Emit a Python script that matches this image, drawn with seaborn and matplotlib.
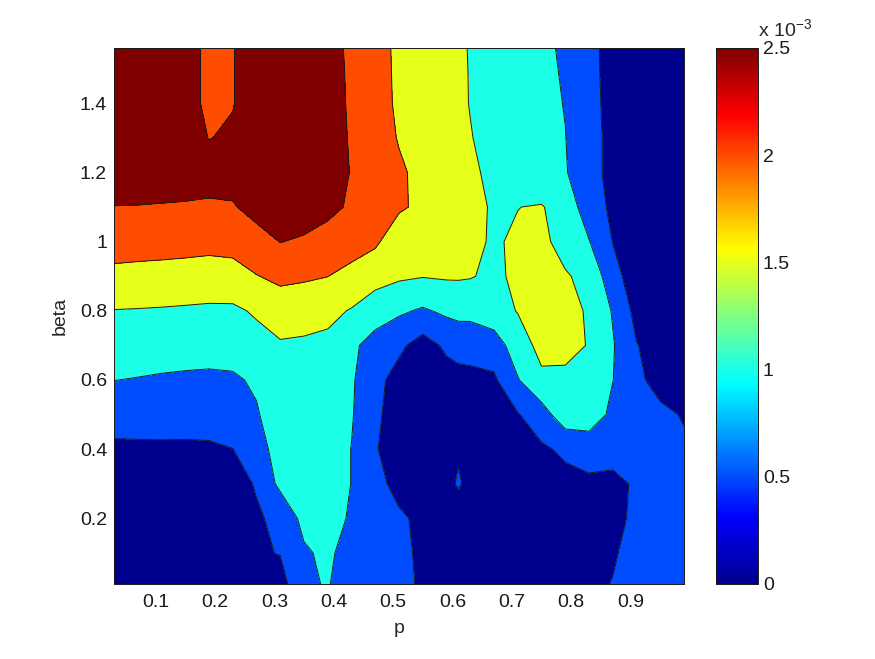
import numpy as np
import matplotlib
matplotlib.use("Agg")
import matplotlib.pyplot as plt
import seaborn as sns
from matplotlib.colors import LinearSegmentedColormap, Normalize
from matplotlib.cm import ScalarMappable

# grid
p = [0.03, 0.07, 0.11, 0.15, 0.19, 0.23, 0.27, 0.31, 0.35, 0.39, 0.43, 0.47, 0.51,
     0.55, 0.59, 0.61, 0.63, 0.67, 0.71, 0.75, 0.79, 0.83, 0.87, 0.91, 0.95, 0.99]
beta = [0.01, 0.1, 0.2, 0.3, 0.4, 0.5, 0.6, 0.7, 0.8, 0.9, 1.0, 1.1, 1.2, 1.3, 1.4, 1.5, 1.56]

# values in units of 1e-3, one row per beta (bottom to top)
rate_e3 = [
    [0.20, 0.21, 0.22, 0.23, 0.25, 0.28, 0.30, 0.30, 0.93, 1.03, 0.75, 0.65, 0.60, 0.45, 0.38, 0.37, 0.37, 0.36, 0.36, 0.37, 0.39, 0.43, 0.51, 0.62, 0.70, 0.72],
    [0.22, 0.23, 0.24, 0.25, 0.27, 0.32, 0.44, 0.52, 0.92, 1.13, 0.70, 0.66, 0.58, 0.44, 0.37, 0.36, 0.36, 0.35, 0.35, 0.36, 0.38, 0.41, 0.47, 0.60, 0.70, 0.74],
    [0.25, 0.26, 0.27, 0.28, 0.31, 0.35, 0.47, 0.56, 1.17, 1.20, 0.94, 0.78, 0.57, 0.40, 0.36, 0.34, 0.36, 0.35, 0.34, 0.34, 0.35, 0.38, 0.43, 0.55, 0.68, 0.74],
    [0.30, 0.31, 0.32, 0.33, 0.36, 0.40, 0.52, 1.13, 1.30, 1.28, 0.99, 0.65, 0.35, 0.34, 0.42, 0.53, 0.42, 0.40, 0.38, 0.37, 0.37, 0.42, 0.42, 0.54, 0.66, 0.72],
    [0.41, 0.42, 0.43, 0.43, 0.44, 0.495, 0.76, 1.24, 1.33, 1.28, 0.99, 0.53, 0.29, 0.30, 0.36, 0.466, 0.38, 0.36, 0.37, 0.43, 0.58, 0.68, 0.62, 0.70, 0.65, 0.58],
    [0.71, 0.70, 0.69, 0.68, 0.68, 0.72, 0.96, 1.25, 1.33, 1.30, 1.04, 0.58, 0.30, 0.28, 0.30, 0.31, 0.32, 0.36, 0.47, 0.78, 1.30, 1.30, 0.88, 0.75, 0.62, 0.46],
    [1.005, 0.98, 0.95, 0.93, 0.92, 0.94, 1.06, 1.30, 1.35, 1.30, 1.06, 0.64, 0.32, 0.28, 0.30, 0.32, 0.34, 0.42, 0.97, 1.40, 1.35, 1.25, 1.01, 0.62, 0.30, 0.28],
    [1.245, 1.23, 1.21, 1.19, 1.17, 1.18, 1.34, 1.45, 1.43, 1.40, 1.10, 0.80, 0.60, 0.29, 0.59, 0.70, 0.73, 0.76, 1.25, 1.65, 1.70, 1.465, 1.04, 0.52, 0.30, 0.25],
    [1.486, 1.475, 1.46, 1.44, 1.42, 1.42, 1.556, 1.74, 1.69, 1.61, 1.47, 1.245, 1.075, 0.94, 1.09, 1.13, 1.12, 1.30, 1.522, 1.70, 1.65, 1.45, 0.963, 0.35, 0.25, 0.20],
    [1.88, 1.86, 1.84, 1.82, 1.79, 1.81, 1.983, 2.105, 2.065, 2.006, 1.83, 1.67, 1.57, 1.52, 1.55, 1.55, 1.53, 1.40, 1.60, 1.65, 1.52, 1.44, 0.64, 0.29, 0.22, 0.20],
    [2.21, 2.19, 2.18, 2.16, 2.14, 2.17, 2.32, 2.51, 2.45, 2.32, 2.25, 2.08, 1.70, 1.65, 1.60, 1.58, 1.56, 1.47, 1.541, 1.55, 1.42, 1.02, 0.49, 0.30, 0.22, 0.20],
    [2.49, 2.485, 2.47, 2.456, 2.436, 2.462, 2.66, 2.75, 2.70, 2.62, 2.435, 2.25, 2.065, 1.90, 1.756, 1.682, 1.607, 1.459, 1.495, 1.53, 1.29, 0.738, 0.41, 0.28, 0.22, 0.20],
    [2.75, 2.75, 2.74, 2.72, 2.68, 2.68, 2.75, 2.85, 2.80, 2.70, 2.48, 2.27, 2.063, 1.886, 1.724, 1.642, 1.561, 1.42, 1.29, 1.16, 1.032, 0.71, 0.33, 0.27, 0.22, 0.20],
    [2.85, 2.85, 2.85, 2.70, 2.49, 2.55, 2.70, 2.85, 2.80, 2.68, 2.462, 2.209, 1.973, 1.82, 1.668, 1.592, 1.515, 1.387, 1.261, 1.135, 1.009, 0.687, 0.35, 0.27, 0.22, 0.20],
    [2.85, 2.85, 2.85, 2.70, 2.39, 2.484, 2.70, 2.85, 2.80, 2.67, 2.444, 2.162, 1.937, 1.788, 1.638, 1.563, 1.489, 1.367, 1.243, 1.119, 0.984, 0.661, 0.339, 0.26, 0.21, 0.19],
    [2.85, 2.85, 2.85, 2.70, 2.39, 2.484, 2.70, 2.85, 2.80, 2.67, 2.43, 2.148, 1.93, 1.782, 1.634, 1.56, 1.485, 1.361, 1.234, 1.108, 0.953, 0.641, 0.328, 0.25, 0.20, 0.18],
    [2.85, 2.85, 2.85, 2.70, 2.39, 2.484, 2.70, 2.85, 2.80, 2.65, 2.42, 2.14, 1.926, 1.78, 1.63, 1.556, 1.48, 1.356, 1.228, 1.10, 0.93, 0.63, 0.33, 0.25, 0.20, 0.18],
]

levels = [0, 0.5, 1.0, 1.5, 2.0, 2.5]
x_ticks = [0.1, 0.2, 0.3, 0.4, 0.5, 0.6, 0.7, 0.8, 0.9]
y_ticks = [0.2, 0.4, 0.6, 0.8, 1.0, 1.2, 1.4]

sns.set_theme(style="white")
plt.rcParams['font.family'] = ['Liberation Sans', 'DejaVu Sans']
plt.rcParams['mathtext.fontset'] = 'custom'
plt.rcParams['mathtext.rm'] = 'Liberation Sans'
plt.rcParams['mathtext.it'] = 'Liberation Sans:italic'

# matlab style jet
jet_m = LinearSegmentedColormap('jet_m', {
    'red':   [(0, 0, 0), (0.375, 0, 0), (0.625, 1, 1), (0.875, 1, 1), (1, 0.5, 0.5)],
    'green': [(0, 0, 0), (0.125, 0, 0), (0.375, 1, 1), (0.625, 1, 1), (0.875, 0, 0), (1, 0, 0)],
    'blue':  [(0, 0.5625, 0.5625), (0.125, 1, 1), (0.375, 1, 1), (0.625, 0, 0), (1, 0, 0)],
}, N=256)
band_colors = [jet_m(v / 2.5) for v in levels]

P, B = np.meshgrid(p, beta)
Z = np.array(rate_e3)

fig = plt.figure(figsize=(8.75, 6.59), dpi=100)
ax = fig.add_axes([114/875, 1 - 584/659, 570/875, 536/659])
cax = fig.add_axes([716/875, 1 - 584/659, 42/875, 536/659])

ax.contourf(P, B, Z, levels=levels + [Z.max() + 1], colors=band_colors)
ax.contour(P, B, Z, levels=levels[1:], colors='k', linewidths=0.7)

ax.set_xlim(p[0], p[-1])
ax.set_ylim(beta[0], beta[-1])
ax.set_xticks(x_ticks)
ax.set_xticklabels(['%g' % t for t in x_ticks])
ax.set_yticks(y_ticks)
ax.set_yticklabels(['%g' % t for t in y_ticks])
ax.tick_params(direction='in', top=True, right=True, length=5, width=0.6,
               labelsize=14, colors='k')
ax.tick_params(axis='x', pad=7)
ax.tick_params(axis='y', pad=5)
for s in ax.spines.values():
    s.set_color('k')
    s.set_linewidth(0.7)
ax.set_xlabel('p', fontsize=14, labelpad=7)
ax.set_ylabel('beta', fontsize=14, labelpad=8)

cb = fig.colorbar(ScalarMappable(norm=Normalize(0, 2.5), cmap=jet_m), cax=cax,
                  ticks=levels)
cb.ax.set_yticklabels(['%g' % t for t in levels])
cb.ax.tick_params(direction='in', left=True, right=True, length=4, width=0.6,
                  labelsize=14, pad=3.5, colors='k')
cb.outline.set_linewidth(0.7)
cb.outline.set_edgecolor('k')
fig.text(758/875, 1 - 36/659, r'x 10$^{-3}$', fontsize=14, ha='left', va='baseline')

fig.savefig('out.png', dpi=100, facecolor='white')
